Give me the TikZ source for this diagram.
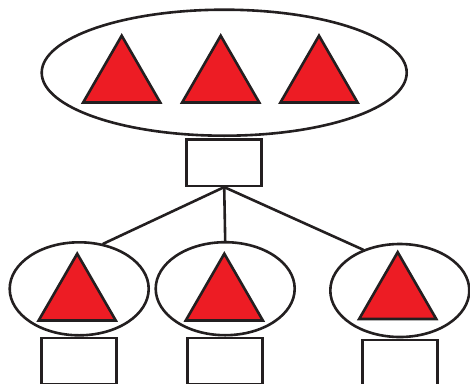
\documentclass[tikz,border=0pt]{standalone}
\usepackage{tikz}
\usetikzlibrary{positioning,shapes.geometric}
\definecolor{inkdark}{HTML}{231F20}
\definecolor{trired}{HTML}{ED1C24}

\begin{document}
\begin{tikzpicture}[
  x=1pt, y=-1pt, color=inkdark, line width=2.6pt,
  bigell/.style={draw, ellipse, inner sep=0pt, minimum width=365pt, minimum height=126pt},
  smallell/.style={draw, ellipse, inner sep=0pt, minimum width=139pt, minimum height=93pt},
  tri/.style={draw, fill=trired, regular polygon, regular polygon sides=3, inner sep=0pt, minimum size=89pt},
  slot/.style={draw, rectangle, inner sep=0pt, minimum width=75pt, minimum height=46.5pt},
  link/.style={line cap=round}
]
\clip (0,0) rectangle (470,383);
\node[bigell] (pool) at (224.2,72.7) {};
\foreach \x/\n in {121.7/1, 220.7/2, 319/3}
  \node[tri] (pt\n) at (\x,80.2) {};
\node[slot, below=1pt of pool] (hub) {};
\node[smallell] (grp1) at (79.2,288.8) {};
\node[smallell] (grp2) at (225.2,288.7) {};
\node[smallell] (grp3) at (399.8,290.5) {};
\node[tri] (gt1) at (77.2,298.2) {};
\node[tri] (gt2) at (224.3,298.2) {};
\node[tri] (gt3) at (397.7,296.7) {};
\node[slot, below=0pt of grp1] (slot1) {};
\node[slot, below=0pt of grp2] (slot2) {};
\node[slot, below=0.4pt of grp3] (slot3) {};
\draw[link] (hub.south) -- (grp1.62);
\draw[link] (hub.south) -- (grp2.north);
\draw[link] (hub.south) -- (grp3.132);
\end{tikzpicture}
\end{document}
